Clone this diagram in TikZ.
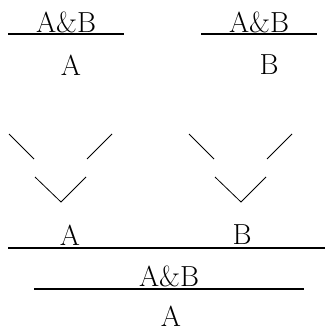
\documentclass[tikz,border=0pt]{standalone}
\usepackage{tikz}

\begin{document}
\begin{tikzpicture}[x=1pt, y=-1pt,
    font=\fontsize{29}{32}\selectfont,
    every node/.style={inner sep=0pt},
    rule/.style={line width=1.3pt},
    stroke/.style={line width=0.8pt}]
  \useasboundingbox (0,0) rectangle (325,334);
  % two elimination steps on top
  \node (conjl) at (66,22) {A\&B};
  \node (leftA) at (71,65) {A};
  \draw[rule] (8,34) -- (124,34);
  \node (conjr) at (259,22) {A\&B};
  \node (rightB) at (269,65) {B};
  \draw[rule] (201,34) -- (317,34);
  % the dots in between
  \foreach \dx in {0,180} {
    \draw[stroke] (9+\dx,134) -- (34+\dx,159);
    \draw[stroke] (112+\dx,134) -- (87+\dx,159);
    \draw[stroke] (35+\dx,177) -- (61+\dx,202) -- (86+\dx,177);
  }
  % introduction, then elimination again
  \node (botA) at (70,235) {A};
  \node (botB) at (242,235) {B};
  \draw[rule] (8,248) -- (325,248);
  \node (conj) at (169,276) {A\&B};
  \draw[rule] (34,289) -- (304,289);
  \node (result) at (171,316) {A};
\end{tikzpicture}
\end{document}
